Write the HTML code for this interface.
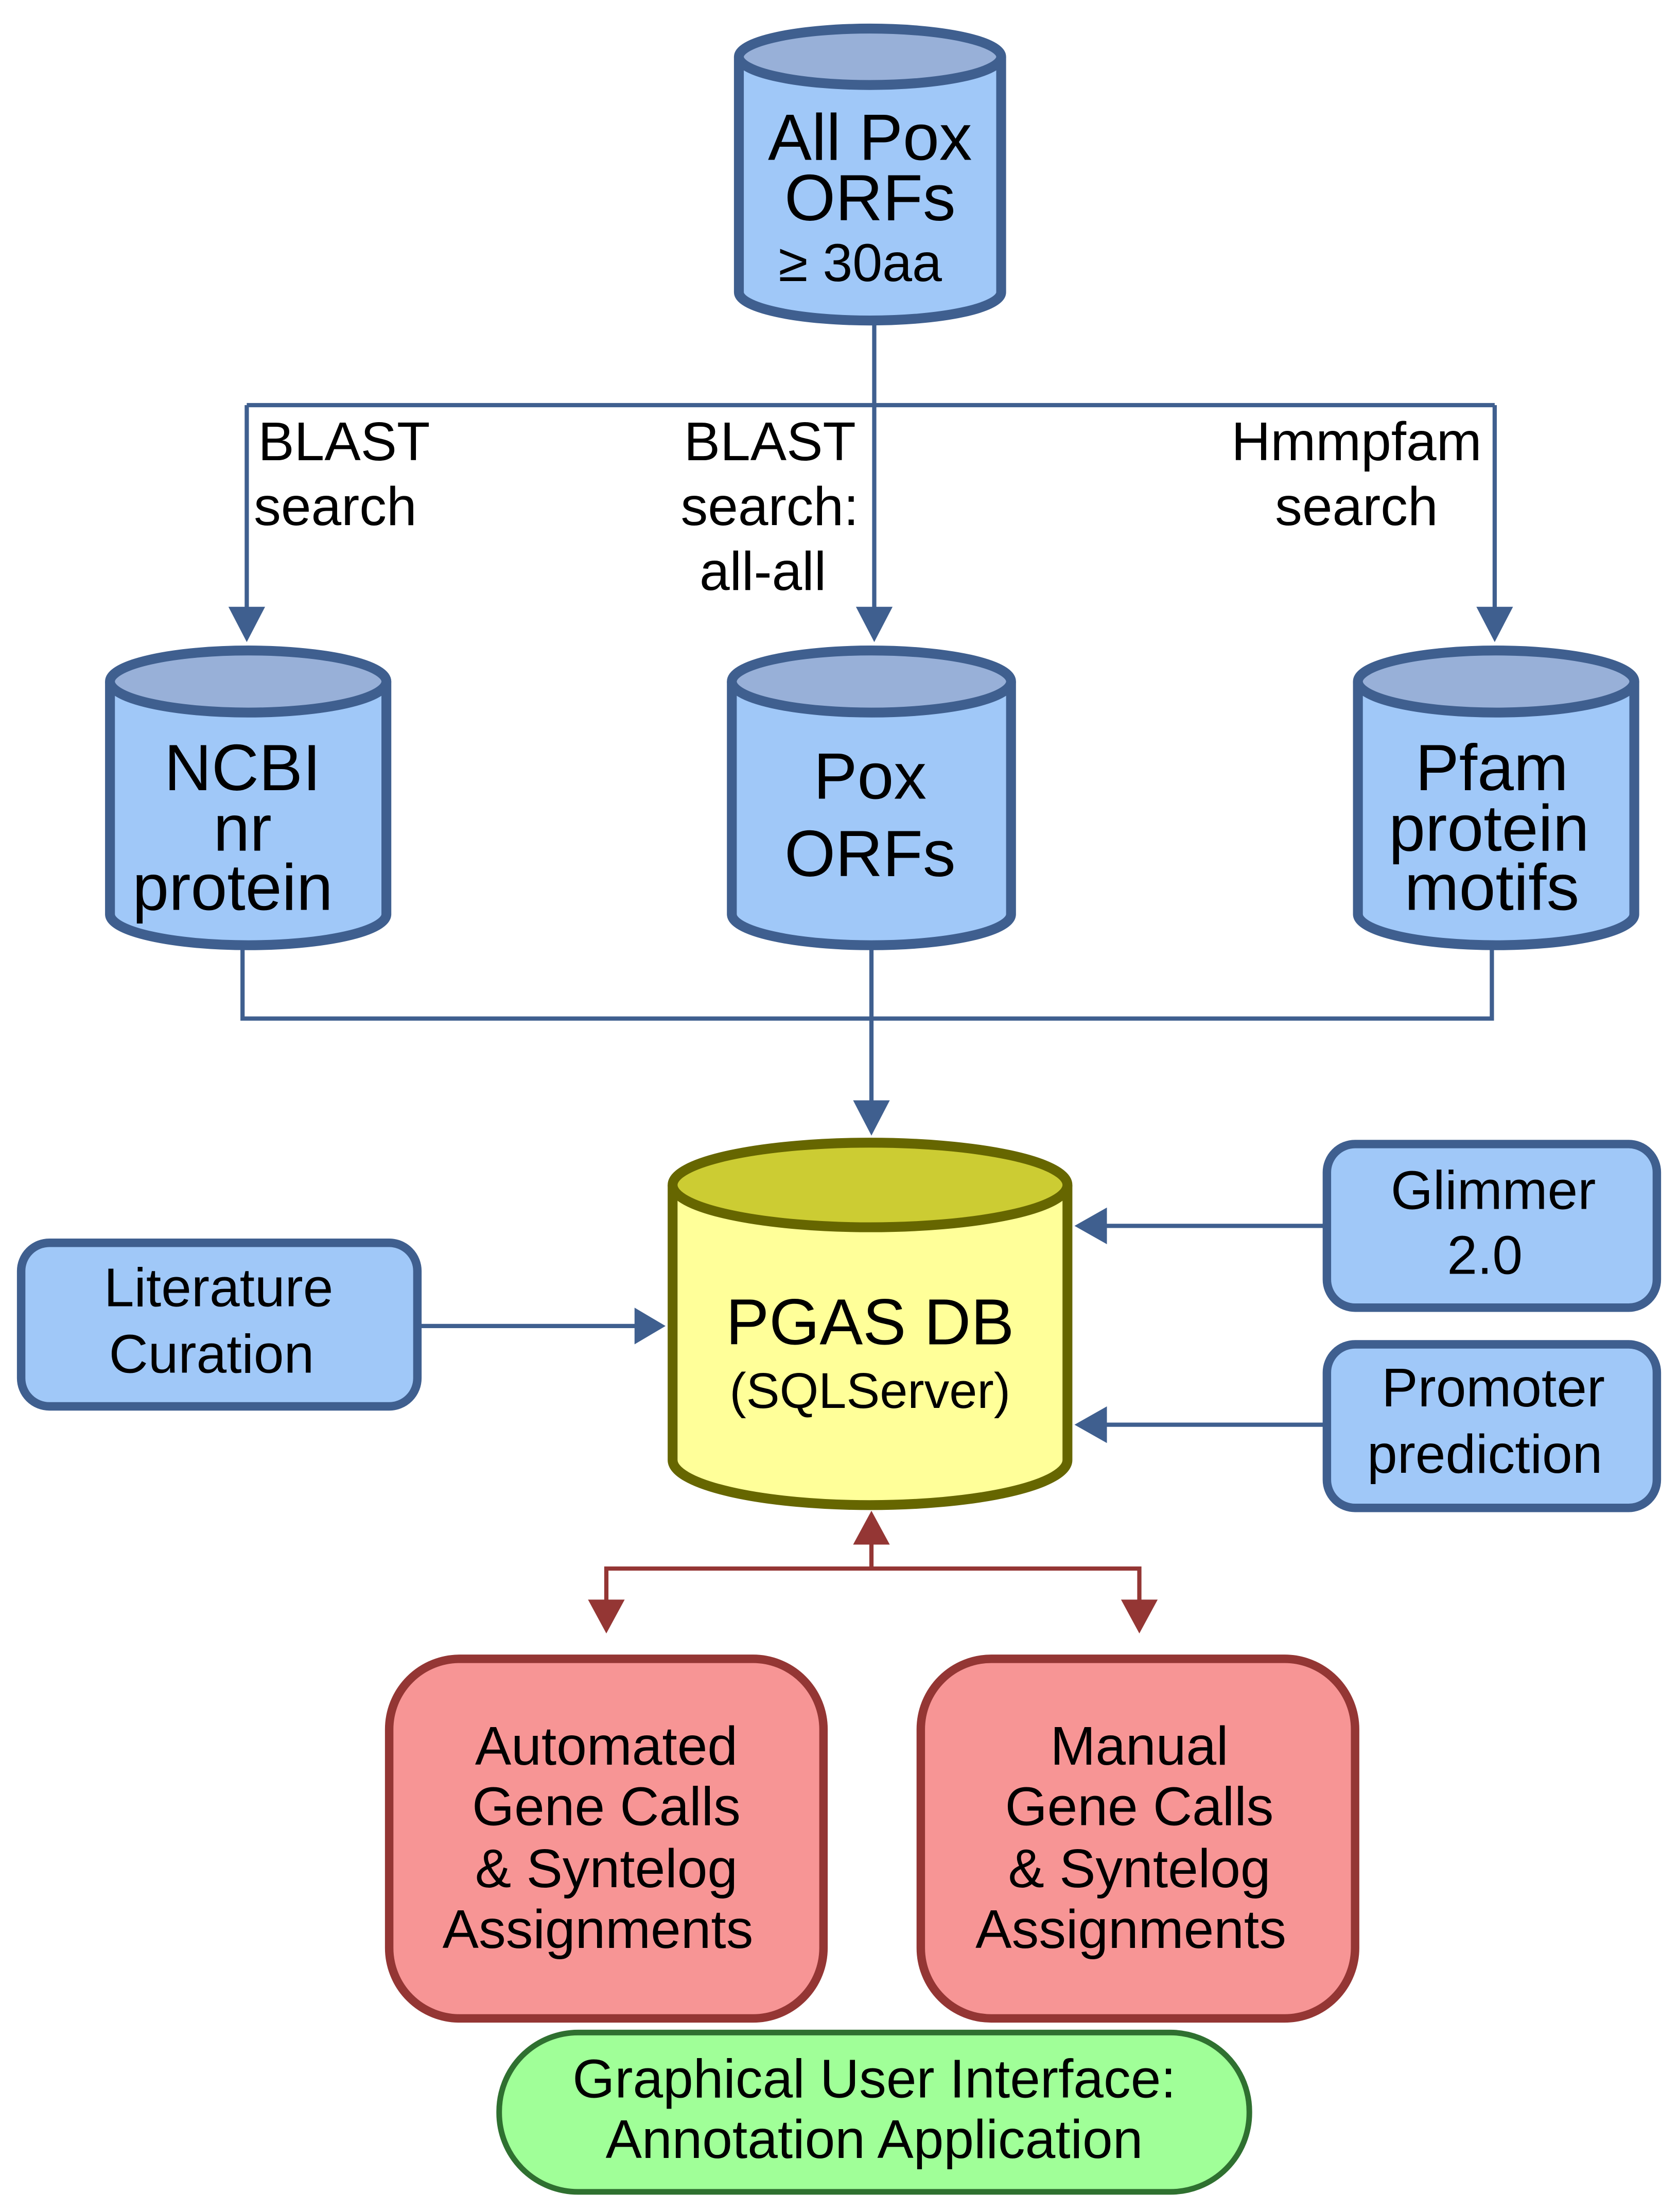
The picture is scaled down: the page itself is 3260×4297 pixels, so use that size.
<!DOCTYPE html>
<html><head><meta charset="utf-8"><style>
html,body{margin:0;padding:0;background:#fff}
svg{display:block}
text{font-family:"Liberation Sans",Arial,sans-serif;fill:#000}
</style></head><body>
<svg width="3260" height="4297" viewBox="0 0 1190 1568" xmlns="http://www.w3.org/2000/svg">
<g stroke="#3f5f8f" stroke-width="3" fill="none">
<path d="M620,227 V287 M175,287 H1060"/>
<path d="M175,287 V432"/><path d="M620,287 V432"/><path d="M1060,287 V432"/>
<path d="M172,670 V722 H1058 V670 M618,670 V782"/>
<path d="M297,940 H452"/>
<path d="M940,869 H784"/>
<path d="M940,1010 H784"/>
</g>
<g fill="#3f5f8f">
<path d="M162,430 L188,430 L175,455z"/>
<path d="M607,430 L633,430 L620,455z"/>
<path d="M1047,430 L1073,430 L1060,455z"/>
<path d="M605,780 L631,780 L618,805z"/>
<path d="M450,927 L450,953 L472,940z"/>
<path d="M785,856 L785,882 L762,869z"/>
<path d="M785,997 L785,1023 L762,1010z"/>
</g>
<g stroke="#3f5f8f" stroke-width="7">
<path d="M524,40 V207 A93,20 0 0 0 710,207 V40" fill="#a0c8f8"/>
<ellipse cx="617" cy="40" rx="93" ry="20" fill="#98b0d8"/>
<path d="M78,483 V648 A98,22 0 0 0 274,648 V483" fill="#a0c8f8"/>
<ellipse cx="176" cy="483" rx="98" ry="22" fill="#98b0d8"/>
<path d="M519,483 V648 A99,22 0 0 0 717,648 V483" fill="#a0c8f8"/>
<ellipse cx="618" cy="483" rx="99" ry="22" fill="#98b0d8"/>
<path d="M963,483 V648 A98,22 0 0 0 1159,648 V483" fill="#a0c8f8"/>
<ellipse cx="1061" cy="483" rx="98" ry="22" fill="#98b0d8"/>
</g>
<g stroke="#666600" stroke-width="7">
<path d="M477,840 V1035 A140,32 0 0 0 757,1035 V840" fill="#ffff99"/>
<ellipse cx="617" cy="840" rx="140" ry="30" fill="#cccc33"/>
</g>
<g stroke="#3f5f8f" stroke-width="6" fill="#a0c8f8">
<rect x="15" y="881" width="281" height="116" rx="20"/>
<rect x="941" y="811" width="234" height="116" rx="20"/>
<rect x="941" y="953" width="234" height="116" rx="20"/>
</g>
<g stroke="#943634" stroke-width="3" fill="none">
<path d="M618,1095 V1112 M430,1135 V1112 H808 V1135"/>
</g>
<g fill="#943634">
<path d="M605,1095 L631,1095 L618,1071z"/>
<path d="M417,1134 L443,1134 L430,1158z"/>
<path d="M795,1134 L821,1134 L808,1158z"/>
</g>
<g stroke="#943634" stroke-width="6" fill="#f79595">
<rect x="276" y="1176" width="308" height="255" rx="50"/>
<rect x="653" y="1176" width="308" height="255" rx="50"/>
</g>
<rect x="354" y="1441" width="532" height="113" rx="56" fill="#a0ff98" stroke="#2f7030" stroke-width="4"/>
<g text-anchor="middle" font-size="46.5">
<text x="617" y="113">All Pox</text>
<text x="617" y="156">ORFs</text>
<text x="610" y="199" font-size="38">≥ 30aa</text>
<text x="172" y="560">NCBI</text>
<text x="172" y="603">nr</text>
<text x="165" y="645">protein</text>
<text x="617" y="566">Pox</text>
<text x="617" y="621">ORFs</text>
<text x="1058" y="560">Pfam</text>
<text x="1056" y="603">protein</text>
<text x="1058" y="645">motifs</text>
<text x="617" y="953" font-size="46">PGAS DB</text>
<text x="617" y="998" font-size="35.5">(SQLServer)</text>
</g>
<g text-anchor="middle" font-size="38.5">
<text x="155" y="926">Literature</text>
<text x="150" y="973">Curation</text>
<text x="1059" y="857">Glimmer</text>
<text x="1053" y="903">2.0</text>
<text x="1059" y="997">Promoter</text>
<text x="1053" y="1044">prediction</text>
<text x="430" y="1251">Automated</text>
<text x="430" y="1294">Gene Calls</text>
<text x="430" y="1338">&amp; Syntelog</text>
<text x="424" y="1381">Assignments</text>
<text x="808" y="1251">Manual</text>
<text x="808" y="1294">Gene Calls</text>
<text x="808" y="1338">&amp; Syntelog</text>
<text x="802" y="1381">Assignments</text>
<text x="620" y="1487">Graphical User Interface:</text>
<text x="620" y="1530">Annotation Application</text>
</g>
<g font-size="38.5">
<text x="183" y="326">BLAST</text>
<text x="180" y="372">search</text>
<text x="607" y="326" text-anchor="end">BLAST</text>
<text x="609" y="372" text-anchor="end">search:</text>
<text x="541" y="418" text-anchor="middle">all-all</text>
<text x="962" y="326" text-anchor="middle">Hmmpfam</text>
<text x="962" y="372" text-anchor="middle">search</text>
</g>
</svg>
</body></html>
